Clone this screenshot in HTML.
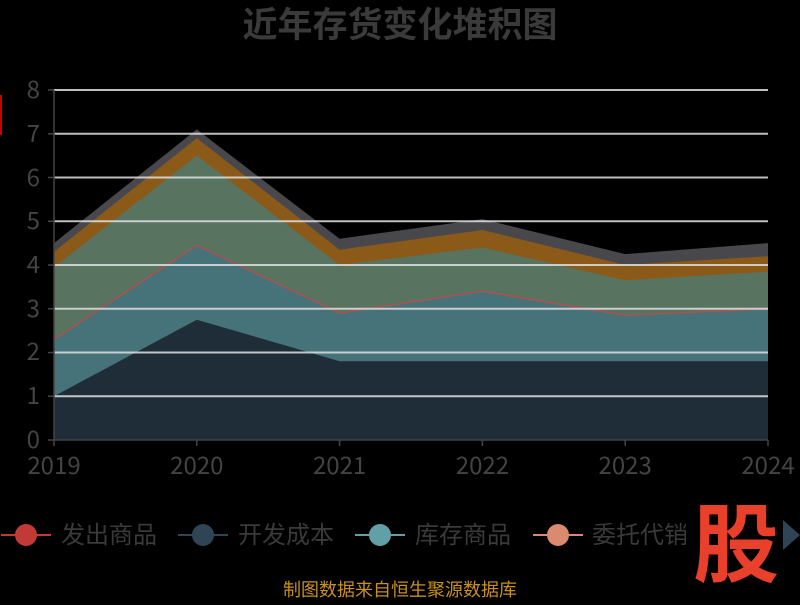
<!DOCTYPE html>
<html><head><meta charset="utf-8"><style>
html,body{margin:0;padding:0;background:#000;}
svg text{font-family:"Noto Sans CJK SC","Liberation Sans",sans-serif;}
</style></head><body>
<svg width="800" height="600" viewBox="0 0 800 600" xmlns="http://www.w3.org/2000/svg">
<rect width="800" height="600" fill="#000"/>
<text x="400" y="37" text-anchor="middle" font-size="35" font-weight="bold" fill="#3a3a3a">近年存货变化堆积图</text>
<!-- areas -->
<polygon fill="#48484c" points="54,243.1 196.8,129.4 339.6,238.75 482.4,219.1 625.2,254.1 768,243.1 768,440 54,440"/>
<polygon fill="#8b5a18" points="54,251.9 196.8,138.1 339.6,249.7 482.4,230 625.2,265 768,256.25 768,440 54,440"/>
<polygon fill="#587360" points="54,267.2 196.8,155.6 339.6,265 482.4,247.5 625.2,280.3 768,271.6 768,440 54,440"/>
<polygon fill="#46727a" points="54,339.4 196.8,245.3 339.6,313.1 482.4,291.25 625.2,315.3 768,308.75 768,440 54,440"/>
<polyline fill="none" stroke="#b05050" stroke-width="1.5" points="54,339.4 196.8,245.3 339.6,313.1 482.4,291.25 625.2,315.3 768,308.75"/>
<polygon fill="#1f2d38" points="54,396.25 196.8,319.7 339.6,361.25 482.4,361.25 625.2,361.25 768,361.25 768,440 54,440"/>
<!-- grid -->
<g stroke="#e0e0e0" stroke-width="2" opacity="0.85">
<line x1="54" x2="768" y1="90" y2="90"/><line x1="54" x2="768" y1="133.75" y2="133.75"/>
<line x1="54" x2="768" y1="177.5" y2="177.5"/><line x1="54" x2="768" y1="221.25" y2="221.25"/>
<line x1="54" x2="768" y1="265" y2="265"/><line x1="54" x2="768" y1="308.75" y2="308.75"/>
<line x1="54" x2="768" y1="352.5" y2="352.5"/><line x1="54" x2="768" y1="396.25" y2="396.25"/>
</g>
<g stroke="#444" stroke-width="1.5">
<line x1="54" x2="54" y1="90" y2="440"/><line x1="54" x2="768" y1="440" y2="440"/>
<line x1="48" x2="54" y1="90" y2="90"/><line x1="48" x2="54" y1="133.75" y2="133.75"/><line x1="48" x2="54" y1="177.5" y2="177.5"/><line x1="48" x2="54" y1="221.25" y2="221.25"/><line x1="48" x2="54" y1="265" y2="265"/><line x1="48" x2="54" y1="308.75" y2="308.75"/><line x1="48" x2="54" y1="352.5" y2="352.5"/><line x1="48" x2="54" y1="396.25" y2="396.25"/><line x1="48" x2="54" y1="440" y2="440"/>
<line x1="54" x2="54" y1="440" y2="446"/><line x1="196.8" x2="196.8" y1="440" y2="446"/><line x1="339.6" x2="339.6" y1="440" y2="446"/><line x1="482.4" x2="482.4" y1="440" y2="446"/><line x1="625.2" x2="625.2" y1="440" y2="446"/><line x1="768" x2="768" y1="440" y2="446"/>
</g>
<g font-size="24" fill="#444" text-anchor="end">
<text x="40" y="98">8</text><text x="40" y="142">7</text><text x="40" y="186">6</text><text x="40" y="229">5</text><text x="40" y="273">4</text><text x="40" y="317">3</text><text x="40" y="360">2</text><text x="40" y="404">1</text><text x="40" y="448">0</text>
</g>
<g font-size="24" fill="#444" text-anchor="middle">
<text x="54" y="474">2019</text><text x="196.8" y="474">2020</text><text x="339.6" y="474">2021</text><text x="482.4" y="474">2022</text><text x="625.2" y="474">2023</text><text x="768" y="474">2024</text>
</g>
<rect x="0" y="95" width="2" height="40" fill="#c00"/>
<!-- legend -->
<g font-size="24" fill="#3a3a3a">
<line x1="1" x2="51" y1="535" y2="535" stroke="#c23a35" stroke-width="2"/><circle cx="26" cy="535" r="11" fill="#c23a35"/>
<text x="61" y="543">发出商品</text>
<line x1="178" x2="228" y1="535" y2="535" stroke="#2f4555" stroke-width="2"/><circle cx="203" cy="535" r="11" fill="#2f4555"/>
<text x="238" y="543">开发成本</text>
<line x1="355" x2="405" y1="535" y2="535" stroke="#62a0a8" stroke-width="2"/><circle cx="380" cy="535" r="11" fill="#62a0a8"/>
<text x="415" y="543">库存商品</text>
<line x1="533" x2="583" y1="535" y2="535" stroke="#d98a6f" stroke-width="2"/><circle cx="558" cy="535" r="11" fill="#d98a6f"/>
<text x="592" y="543">委托代销</text>
</g>
<rect x="686" y="500" width="94" height="90" fill="#000"/>
<polygon points="783,520 800,535 783,550" fill="#2f4555"/>
<text x="736" y="575" text-anchor="middle" font-size="86" font-weight="bold" fill="#e8402a">股</text>
<text x="400" y="596" text-anchor="middle" font-size="18" fill="#c8901e">制图数据来自恒生聚源数据库</text>
</svg>
</body></html>
